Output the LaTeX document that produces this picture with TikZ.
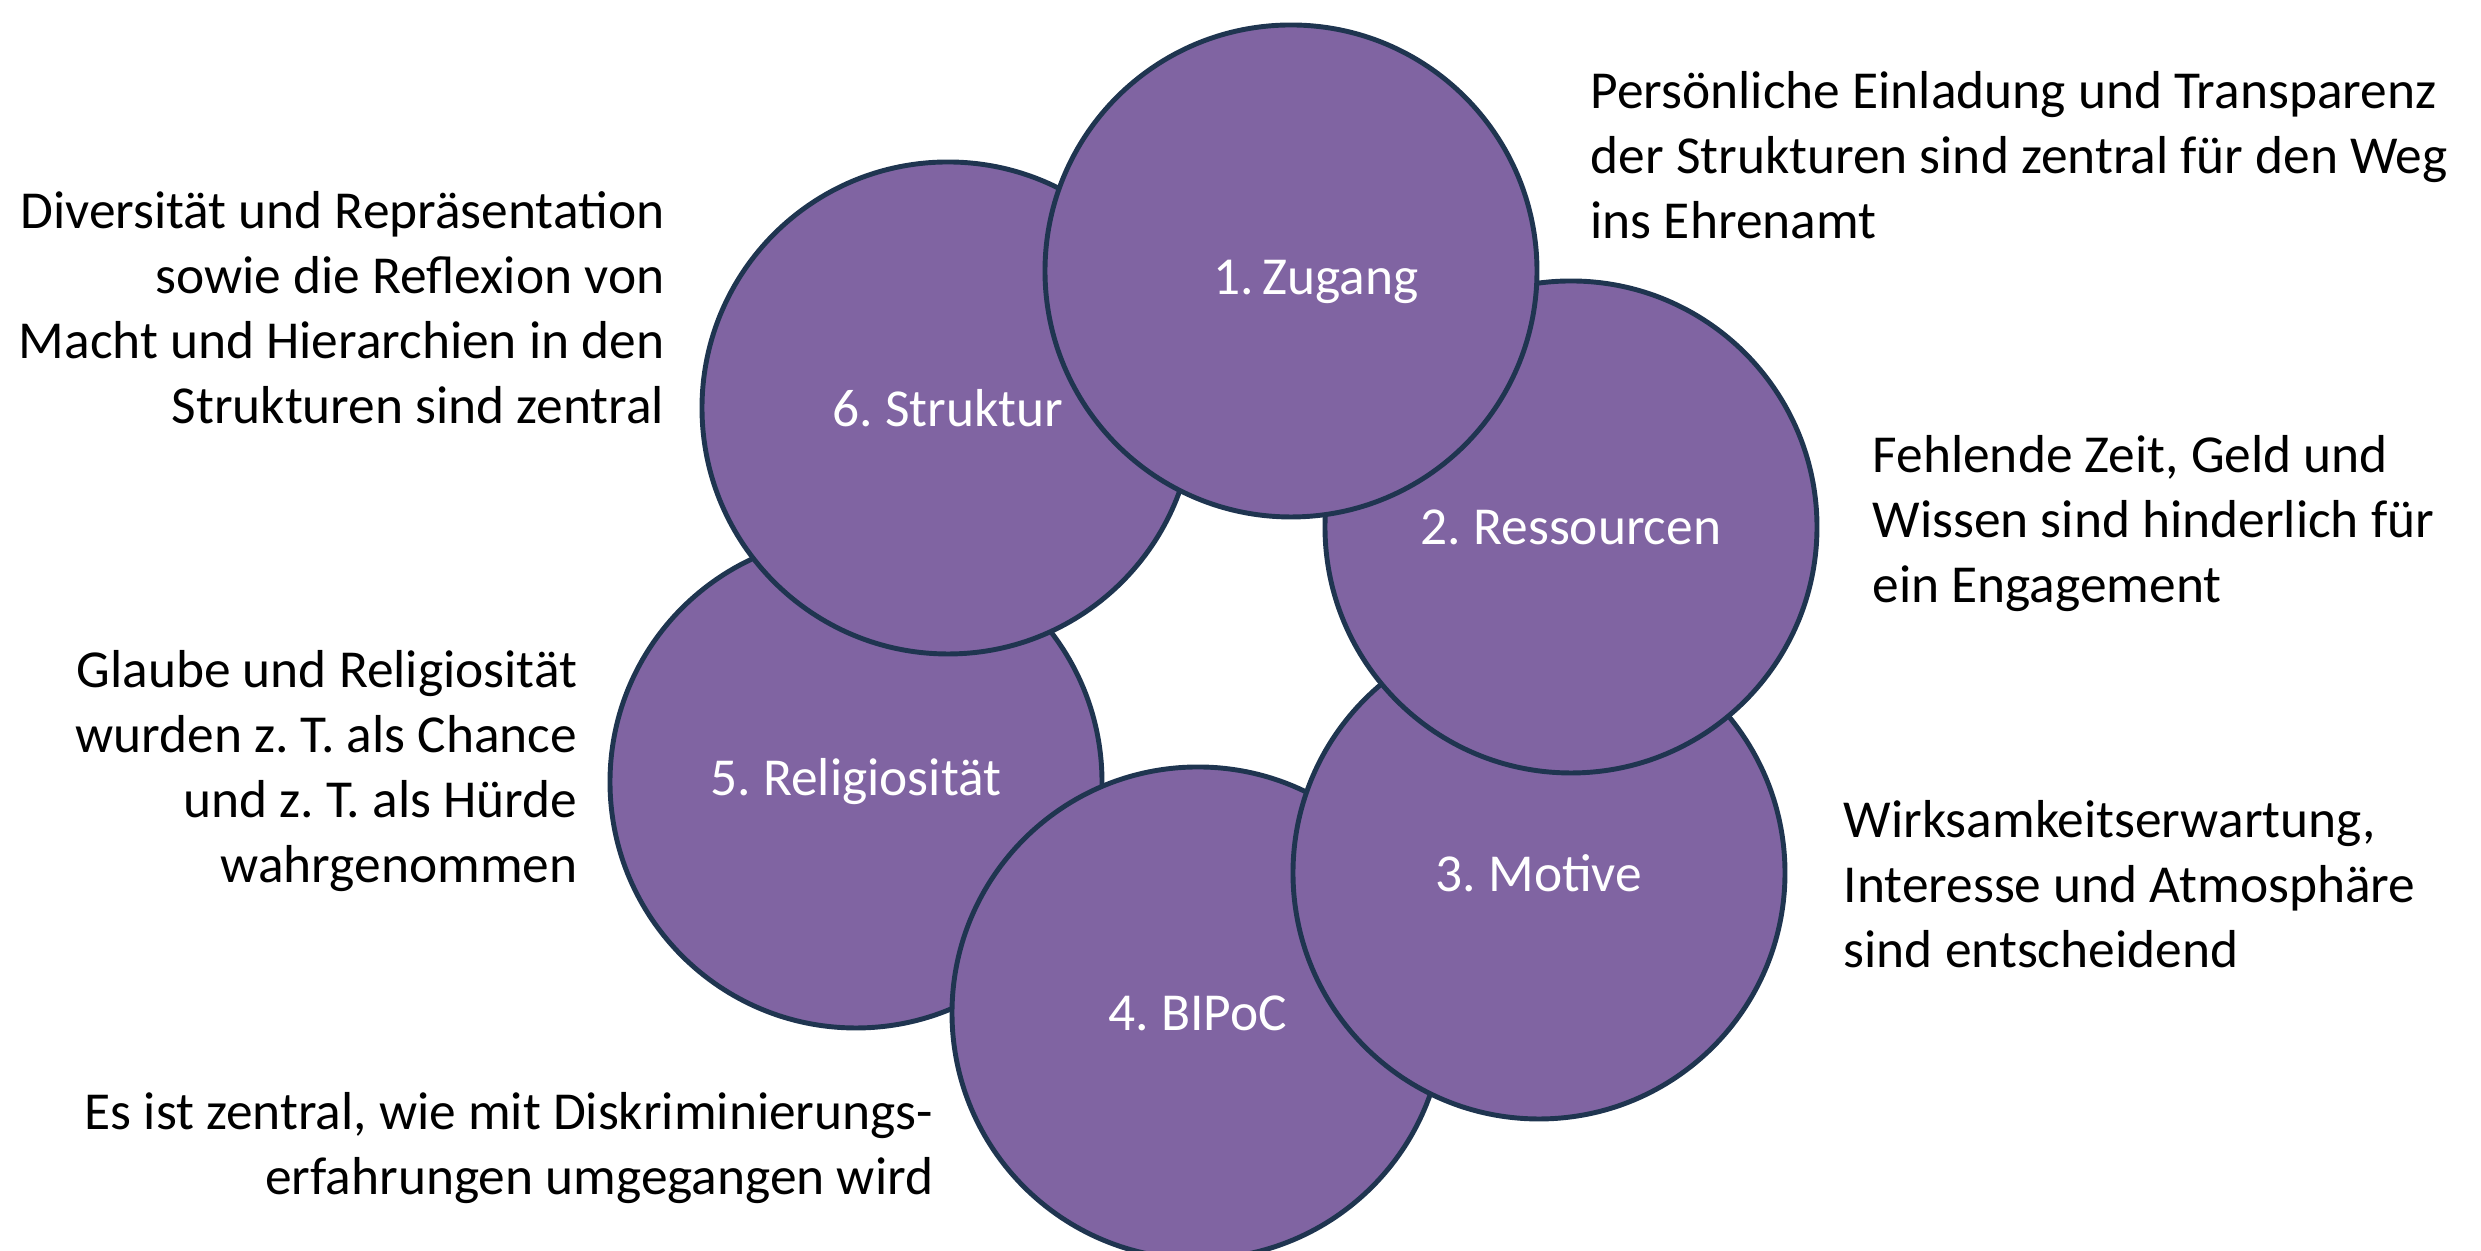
\documentclass[tikz,border=0pt]{standalone}
\usepackage{fontspec}
\setmainfont{Carlito}
\usepackage{tikz}
\frenchspacing
\definecolor{bubblefill}{HTML}{8064A2}
\definecolor{bubbleline}{HTML}{1F3550}
\tikzset{
	bubble/.style={circle, draw=bubbleline, line width=1.4pt, fill=bubblefill, minimum size=4.92cm, inner sep=0pt, text=white, font=\fontsize{15.2}{18}\selectfont},
	note/.style={text=black, inner sep=0pt, font=\fontsize{15.2}{18.5}\selectfont}
}

\begin{document}
\begin{tikzpicture}
			%%%%% START %%%%%
			
			\useasboundingbox (0, 0) rectangle (24.81, 12.51);
			
			\node[bubble] (religion) at (8.56, 4.69) {5. Religiosität};
			\node[bubble] (bipoc) at (11.98, 2.38) {4. BIPoC};
			\node[bubble] (motive) at (15.39, 3.78) {3. Motive};
			\node[bubble] (ressourcen) at (15.71, 7.24) {2. Ressourcen};
			\node[bubble] (struktur) at (9.48, 8.43) {6. Struktur};
			\node[bubble] (zugang) at (12.91, 9.80) {\raisebox{-0.11cm}[\height][\depth]{\hspace*{0.5cm}1.\,Zugang}};
			
			\node[note, anchor=west, align=left] (zugangtext) at (15.90, 10.96) {Persönliche Einladung und Transparenz\\der Strukturen sind zentral für den Weg\\ins Ehrenamt};
			\node[note, anchor=west, align=left] (ressourcentext) at (18.72, 7.27) {Fehlende Zeit, Geld und\\Wissen sind hinderlich für\\ein Engagement};
			\node[note, anchor=west, align=left] (motivetext) at (18.43, 3.67) {Wirksamkeitserwartung,\\Interesse und Atmosphäre\\sind entscheidend};
			\node[note, anchor=east, align=right] (bipoctext) at (9.34, 1.03) {Es ist zentral, wie mit Diskriminierungs-\\erfahrungen umgegangen wird};
			\node[note, anchor=east, align=right] (religiontext) at (5.78, 4.80) {Glaube und Religiosität\\wurden z.~T. als Chance\\und z.~T. als Hürde\\wahrgenommen};
			\node[note, anchor=east, align=right] (strukturtext) at (6.65, 9.43) {Diversität und Repräsentation\\sowie die Reflexion von\\Macht und Hierarchien in den\\Strukturen sind zentral};
			
			%%%%% END %%%%%
		\end{tikzpicture}
\end{document}
